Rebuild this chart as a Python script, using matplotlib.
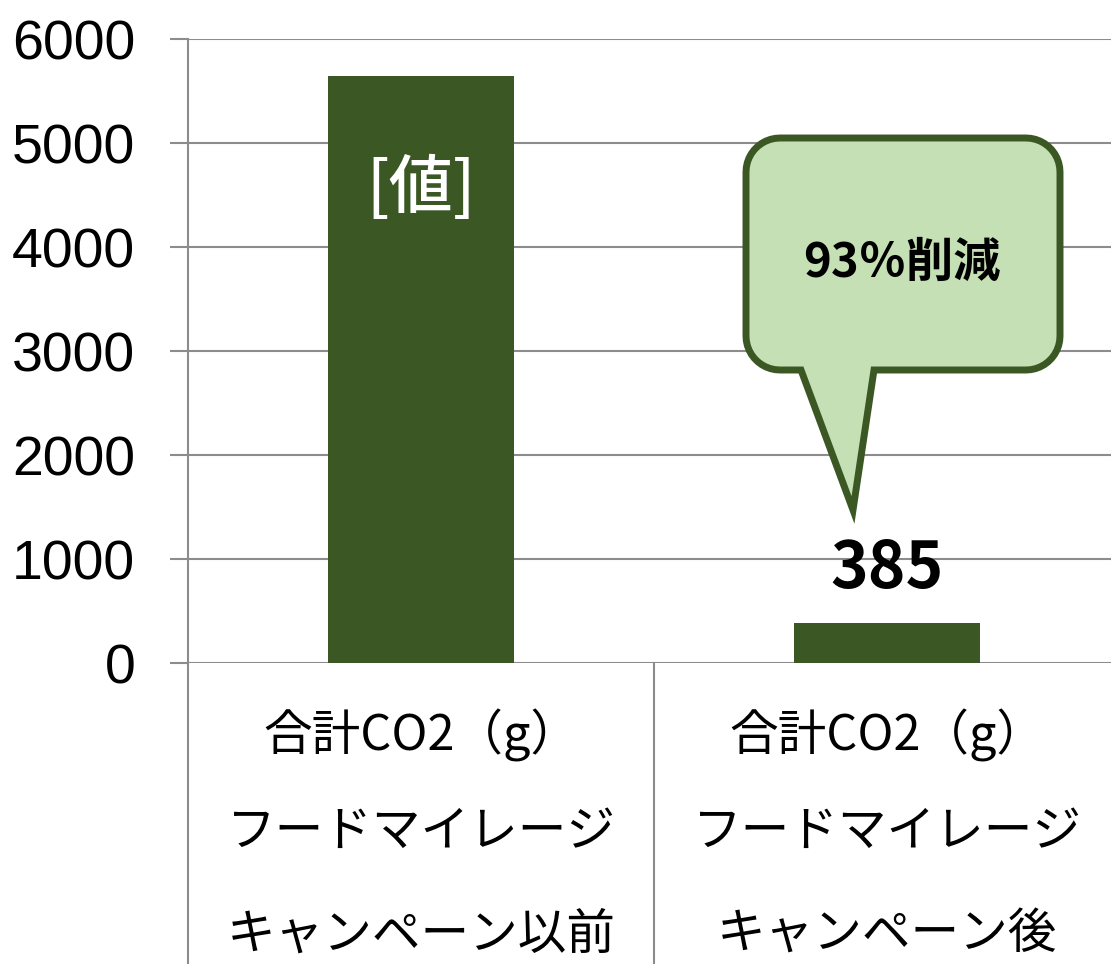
"""
Food mileage CO2 before/after campaign bar chart
"""
import matplotlib

matplotlib.use("Agg")
import matplotlib.pyplot as plt
import matplotlib.transforms as mtransforms
from matplotlib.patches import Polygon
from matplotlib.lines import Line2D
import numpy as np

# data
values = [5645, 385]
bar_labels = ["[値]", "385"]
label_line1 = ["合計CO2（g）", "合計CO2（g）"]
label_line2 = ["フードマイレージ", "フードマイレージ"]
label_line3 = ["キャンペーン以前", "キャンペーン後"]
y_ticks = [0, 1000, 2000, 3000, 4000, 5000, 6000]
callout_text = "93％削減"

W, H = 1111, 964
BAR_COLOR = "#3A5724"
GRID_COLOR = "#8C8C8C"
BUBBLE_FILL = "#C5E0B4"

plt.rcParams["font.family"] = ["Noto Sans CJK JP", "DejaVu Sans"]

fig = plt.figure(figsize=(W / 100, H / 100), dpi=100)
ax = fig.add_axes([188 / W, (H - 663) / H, 932 / W, 624 / H])

x = np.arange(len(values))
ax.bar(x, values, width=0.40, color=BAR_COLOR, zorder=2)

ax.set_xlim(-0.5, 1.5)
ax.set_ylim(0, 6000)
ax.set_yticks(y_ticks)
ax.set_yticklabels([str(t) for t in y_ticks], family=["Liberation Sans", "DejaVu Sans"], fontsize=40)
ax.tick_params(axis="y", length=13, width=1.5, color=GRID_COLOR, pad=25)
ax.set_xticks([])
ax.yaxis.grid(True, color=GRID_COLOR, linewidth=1.5)
ax.set_axisbelow(True)
for side in ["top", "right", "bottom"]:
    ax.spines[side].set_visible(False)
ax.spines["left"].set_color(GRID_COLOR)
ax.spines["left"].set_linewidth(1.5)

# category separators below the axis
blend = mtransforms.blended_transform_factory(ax.transData, ax.transAxes)
for sep in [-0.5, 0.5, 1.5]:
    ax.add_line(
        Line2D([sep, sep], [0, -0.6], transform=blend, color=GRID_COLOR,
               linewidth=1.5, clip_on=False)
    )

# multi-line category labels
for i in range(len(values)):
    for text, off in zip([label_line1[i], label_line2[i], label_line3[i]], [-72, -169, -272]):
        ax.annotate(text, xy=(i, 0), xycoords=("data", "axes fraction"),
                    xytext=(0, off), textcoords="offset pixels",
                    ha="center", va="center", fontsize=35, annotation_clip=False)

# value labels
ax.annotate(bar_labels[0], xy=(0, values[0]), xytext=(0, -113), textcoords="offset pixels",
            ha="center", va="center", fontsize=46, fontweight="medium", color="white")
ax.annotate(bar_labels[1], xy=(1, values[1]), xytext=(0, 54), textcoords="offset pixels",
            ha="center", va="center", fontsize=46, fontweight="bold")

# callout bubble, drawn in pixel coordinates from the top-left
tr = mtransforms.Affine2D().scale(1 / W, -1 / H).translate(0, 1) + fig.transFigure


def arc(cx, cy, r, a0, a1, n=12):
    t = np.radians(np.linspace(a0, a1, n))
    return list(zip(cx + r * np.cos(t), cy + r * np.sin(t)))


x0, x1, y0, y1, r = 746, 1060, 138, 370, 34
pts = []
pts += arc(x1 - r, y0 + r, r, -90, 0)
pts += arc(x1 - r, y1 - r, r, 0, 90)
pts += [(874, y1), (853, 510), (801, y1)]
pts += arc(x0 + r, y1 - r, r, 90, 180)
pts += arc(x0 + r, y0 + r, r, 180, 270)
bubble = Polygon(pts, closed=True, facecolor=BUBBLE_FILL, edgecolor=BAR_COLOR,
                 linewidth=5, joinstyle="miter", transform=tr)
fig.add_artist(bubble)
fig.text(902, 263, callout_text, transform=tr, ha="center", va="center",
         fontsize=34, fontweight="bold")

fig.savefig("out.png", dpi=100)
